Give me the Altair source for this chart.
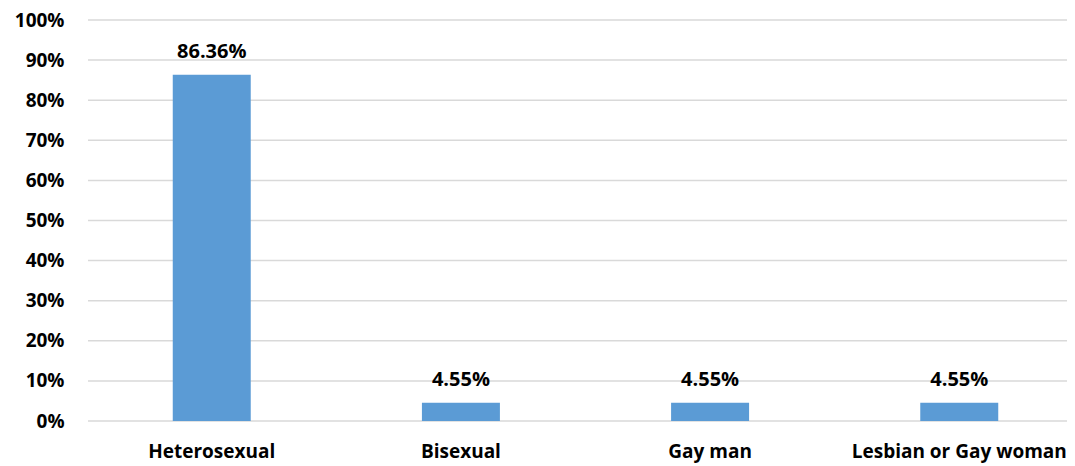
import altair as alt
import pandas as pd

categories = ["Heterosexual", "Bisexual", "Gay man", "Lesbian or Gay woman"]
values = [86.36, 4.55, 4.55, 4.55]
labels = ["86.36%", "4.55%", "4.55%", "4.55%"]
ticks = list(range(0, 101, 10))

df = pd.DataFrame({"cat": categories, "val": values, "lab": labels})
grid_df = pd.DataFrame({"val": ticks})

FONT = "Open Sans"

y_scale = alt.Scale(domain=[0, 100], nice=False)

grid = alt.Chart(grid_df).mark_rule(color="#D9D9D9", strokeWidth=1.5).encode(
    y=alt.Y("val:Q", scale=y_scale, title=None),
    x=alt.value(0), x2=alt.value(979),
)

base = alt.Chart(df).encode(
    x=alt.X("cat:N", sort=categories, title=None,
            scale=alt.Scale(paddingInner=0.687, paddingOuter=0.3, range=[10, 985]),
            axis=alt.Axis(labelAngle=0, domain=False, ticks=False, labelPadding=21,
                          labelLimit=0, grid=False,
                          labelFont=FONT, labelFontSize=19, labelFontWeight="bold",
                          labelColor="#000000")),
    y=alt.Y("val:Q", title=None, scale=y_scale,
            axis=alt.Axis(values=ticks, labelExpr="datum.value + '%'",
                          domain=False, ticks=False, labelPadding=24, grid=False,
                          labelFont=FONT, labelFontSize=19, labelFontWeight="bold",
                          labelColor="#000000")),
)

bars = base.mark_bar(color="#5B9BD5")
text = base.mark_text(baseline="bottom", dy=-13, font=FONT, fontSize=20,
                      fontWeight="bold", color="#000000").encode(text="lab:N")

chart = (grid + bars + text).properties(
    width=979, height=401,
    autosize=alt.AutoSizeParams(type="none"),
    padding={"left": 80, "top": 12, "right": 0, "bottom": 44},
).configure_view(stroke=None)

chart.save("out.html", embed_options={"renderer": "svg", "actions": False})
